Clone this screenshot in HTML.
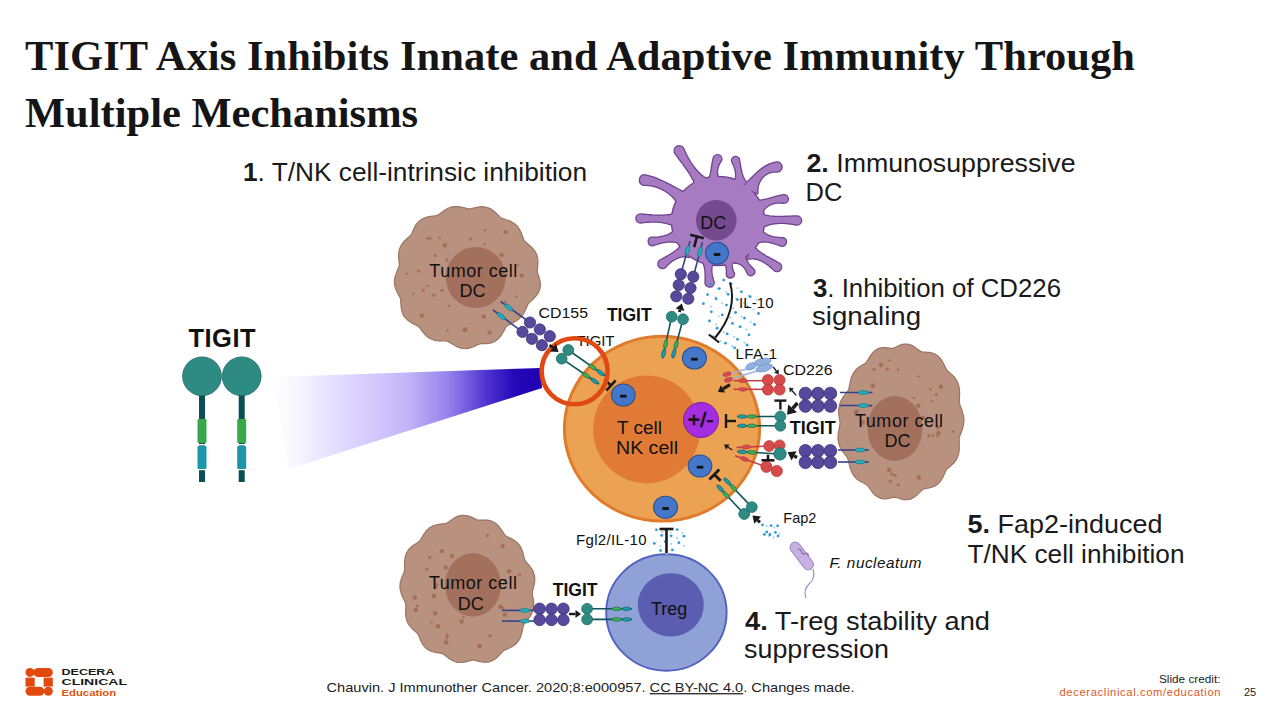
<!DOCTYPE html><html><head><meta charset="utf-8"><style>
html,body{margin:0;padding:0;background:#fff;}
body{width:1280px;height:720px;position:relative;overflow:hidden;}
svg{position:absolute;left:0;top:0;}
</style></head><body>
<svg width="1280" height="720" viewBox="0 0 1280 720"><defs><linearGradient id="wg" x1="272" y1="0" x2="542" y2="0" gradientUnits="userSpaceOnUse"><stop offset="0" stop-color="#ffffff"/><stop offset="0.1" stop-color="#f6f4ff"/><stop offset="0.3" stop-color="#dcd4ff"/><stop offset="0.5" stop-color="#c2b6f8"/><stop offset="0.66" stop-color="#937fea"/><stop offset="0.8" stop-color="#4c30d0"/><stop offset="0.9" stop-color="#2408b8"/><stop offset="1" stop-color="#2000b2"/></linearGradient></defs><polygon points="272,377 541,368 542,388 289,469" fill="url(#wg)"/><rect x="199" y="394" width="6" height="88" fill="#0c4e52"/><rect x="197.5" y="419" width="9" height="24" rx="1.2" fill="#3aa84a"/><rect x="197.5" y="444" width="9" height="1.4" fill="#ffffff"/><rect x="197.5" y="446" width="9" height="23" rx="1.2" fill="#1b98a8"/><rect x="197.5" y="469" width="9" height="1.2" fill="#ffffff"/><rect x="238.7" y="394" width="6" height="88" fill="#0c4e52"/><rect x="237.2" y="419" width="9" height="24" rx="1.2" fill="#3aa84a"/><rect x="237.2" y="444" width="9" height="1.4" fill="#ffffff"/><rect x="237.2" y="446" width="9" height="23" rx="1.2" fill="#1b98a8"/><rect x="237.2" y="469" width="9" height="1.2" fill="#ffffff"/><circle cx="202" cy="376.3" r="19.4" fill="#2e8b84" stroke="#1e6a66" stroke-width="0.8"/><circle cx="241.7" cy="376.3" r="19.4" fill="#2e8b84" stroke="#1e6a66" stroke-width="0.8"/><path d="M538.9 277 L539.4 278.8 L539.9 280.5 L540.2 282.4 L540.3 284.2 L540.3 286 L540.1 287.7 L539.7 289.5 L539 291.2 L538.2 292.9 L537.2 294.4 L536.1 295.9 L534.8 297.4 L533.5 298.8 L532.1 300.1 L530.7 301.3 L529.3 302.6 L528.2 303.9 L527.4 305.3 L526.8 306.8 L526.2 308.3 L525.5 309.8 L524.8 311.3 L524 312.7 L523.2 314.1 L522.2 315.5 L521.2 316.7 L520 317.9 L518.8 319 L517.4 320 L516.1 320.9 L514.6 321.8 L513.2 322.6 L511.7 323.3 L510.3 324.1 L508.9 324.8 L507.5 325.6 L506.3 326.6 L505.4 328 L504.6 329.4 L503.8 331 L502.9 332.6 L502 334.1 L501 335.6 L499.9 337 L498.7 338.4 L497.4 339.6 L496.1 340.6 L494.6 341.5 L493.1 342.2 L491.4 342.8 L489.8 343.2 L488.1 343.4 L486.4 343.6 L484.7 343.7 L482.9 343.7 L481.2 343.7 L479.6 343.9 L478 344.6 L476.5 345.3 L474.9 346.1 L473.3 346.8 L471.6 347.4 L469.9 347.9 L468.2 348.3 L466.5 348.5 L464.8 348.6 L463 348.5 L461.3 348.2 L459.6 347.7 L458 347.1 L456.4 346.4 L454.8 345.5 L453.3 344.6 L451.8 343.7 L450.3 342.7 L448.8 341.9 L447.3 341.2 L445.7 341 L444 341 L442.2 340.9 L440.5 340.9 L438.7 340.8 L436.9 340.6 L435.2 340.3 L433.5 339.9 L431.9 339.3 L430.3 338.6 L428.8 337.7 L427.4 336.7 L426.1 335.6 L424.8 334.4 L423.7 333 L422.6 331.7 L421.5 330.3 L420.5 328.9 L419.5 327.5 L418.3 326.4 L416.8 325.5 L415.2 324.7 L413.6 323.9 L411.9 323 L410.4 322.1 L408.8 321.1 L407.4 319.9 L406.1 318.7 L404.9 317.3 L403.9 315.9 L403 314.3 L402.4 312.7 L401.8 310.9 L401.4 309.2 L401.2 307.4 L401 305.5 L400.9 303.7 L400.8 301.9 L400.8 300.1 L400.5 298.5 L399.7 296.9 L398.9 295.4 L398.1 293.9 L397.2 292.3 L396.4 290.7 L395.8 289.1 L395.2 287.4 L394.8 285.7 L394.5 284 L394.4 282.2 L394.5 280.5 L394.7 278.7 L395.1 277 L395.6 275.3 L396.2 273.6 L396.8 271.9 L397.5 270.3 L398.2 268.7 L398.9 267.1 L399.3 265.5 L399.2 263.8 L399.1 262.1 L398.9 260.3 L398.7 258.5 L398.6 256.7 L398.6 254.9 L398.7 253.1 L399 251.4 L399.3 249.7 L399.9 248 L400.6 246.4 L401.5 244.8 L402.5 243.4 L403.6 242 L404.8 240.7 L406.1 239.5 L407.4 238.3 L408.7 237.1 L410 236 L411.2 234.7 L411.9 233.2 L412.6 231.5 L413.3 229.9 L414.1 228.3 L414.9 226.7 L415.8 225.1 L416.9 223.6 L418 222.3 L419.3 221.1 L420.7 220 L422.2 219 L423.8 218.2 L425.5 217.6 L427.2 217.1 L429 216.7 L430.8 216.3 L432.6 216.1 L434.4 215.9 L436.1 215.6 L437.8 215.1 L439.2 214.2 L440.5 213.2 L441.9 212.2 L443.3 211.2 L444.8 210.2 L446.3 209.2 L447.8 208.4 L449.4 207.7 L451.1 207.2 L452.8 206.8 L454.5 206.6 L456.2 206.5 L457.9 206.6 L459.7 206.8 L461.4 207.1 L463.1 207.5 L464.8 207.9 L466.5 208.4 L468.1 208.8 L469.8 208.9 L471.5 208.6 L473.2 208.2 L474.9 207.8 L476.7 207.4 L478.4 207.1 L480.2 206.8 L482 206.7 L483.8 206.8 L485.5 207.1 L487.2 207.5 L488.9 208.1 L490.5 208.8 L492 209.7 L493.5 210.8 L494.8 212 L496.2 213.2 L497.4 214.5 L498.7 215.7 L499.9 216.9 L501.2 218 L502.8 218.6 L504.4 219.1 L506.1 219.7 L507.7 220.2 L509.4 220.9 L511 221.6 L512.6 222.4 L514 223.3 L515.4 224.4 L516.7 225.6 L517.8 226.9 L518.8 228.3 L519.8 229.8 L520.6 231.4 L521.3 233 L521.9 234.7 L522.5 236.3 L523.1 237.9 L523.7 239.5 L524.5 241 L525.8 242.2 L527.1 243.3 L528.5 244.5 L529.9 245.7 L531.2 246.9 L532.5 248.2 L533.7 249.6 L534.8 251.1 L535.7 252.6 L536.5 254.3 L537.1 255.9 L537.5 257.7 L537.8 259.4 L537.9 261.2 L537.9 263 L537.8 264.8 L537.6 266.6 L537.4 268.4 L537.3 270.1 L537.3 271.9 L537.8 273.6 L538.4 275.3Z" fill="#b8917f" stroke="#9c7463" stroke-width="1.2"/><ellipse cx="475.8" cy="277.5" rx="30" ry="30.5" fill="#a3705d"/><g fill="#a46d5c"><circle cx="423.4" cy="290.3" r="1.6"/><circle cx="413.2" cy="293.6" r="1.2"/><circle cx="483.7" cy="316.6" r="2.2"/><circle cx="446.9" cy="259.9" r="1.6"/><circle cx="484.9" cy="230.2" r="1.2"/><circle cx="435.1" cy="255.6" r="1.6"/><circle cx="439.6" cy="238" r="1.2"/><circle cx="427.1" cy="238.5" r="1.2"/><circle cx="427.5" cy="286" r="1.2"/><circle cx="418.6" cy="271.2" r="1.6"/><circle cx="444.8" cy="245.2" r="2.2"/><circle cx="521.8" cy="275.5" r="2.2"/><circle cx="465.2" cy="329.5" r="2.2"/><circle cx="470.4" cy="239" r="1.6"/><circle cx="421.8" cy="315.6" r="2.2"/><circle cx="501.5" cy="254.9" r="2.2"/><circle cx="429.9" cy="238.3" r="1.6"/><circle cx="449" cy="305.8" r="1.2"/><circle cx="517.7" cy="265.2" r="1.2"/><circle cx="500.2" cy="315" r="1.2"/><circle cx="516.6" cy="296.8" r="1.2"/><circle cx="406.7" cy="273.7" r="1.2"/><circle cx="433.8" cy="295.2" r="1.6"/><circle cx="442" cy="290.3" r="1.6"/><circle cx="505.7" cy="232.1" r="2.2"/><circle cx="447.6" cy="330.5" r="1.2"/><circle cx="489.6" cy="332.6" r="2.2"/><circle cx="463.7" cy="330" r="1.6"/><circle cx="484.6" cy="244.2" r="1.2"/><circle cx="505.4" cy="301.7" r="1.2"/></g><path d="M963.8 422 L963.6 423.9 L963.3 425.7 L962.9 427.5 L962.3 429.3 L961.7 431 L961.1 432.8 L960.4 434.4 L959.8 436.1 L959.2 437.8 L959.1 439.6 L959.2 441.4 L959.2 443.3 L959.3 445.2 L959.3 447.2 L959.3 449.1 L959.1 451 L958.8 452.9 L958.4 454.7 L957.8 456.4 L957.1 458.1 L956.3 459.7 L955.3 461.1 L954.2 462.5 L953 463.8 L951.7 464.9 L950.5 466 L949.2 467.1 L947.9 468.2 L946.7 469.3 L945.8 470.7 L945.1 472.3 L944.4 473.9 L943.6 475.6 L942.9 477.2 L942 478.7 L941.1 480.2 L940.1 481.6 L939 482.9 L937.8 484 L936.5 485 L935.1 485.9 L933.7 486.5 L932.2 487.1 L930.7 487.5 L929.2 487.9 L927.7 488.2 L926.2 488.4 L924.7 488.7 L923.3 489.1 L922.1 490 L920.9 491.2 L919.7 492.4 L918.4 493.6 L917.2 494.8 L915.9 495.9 L914.5 496.9 L913.1 497.8 L911.7 498.6 L910.2 499.1 L908.7 499.5 L907.1 499.7 L905.6 499.7 L904.1 499.6 L902.5 499.3 L901 498.9 L899.5 498.5 L898 498 L896.5 497.5 L895.1 497.2 L893.5 497.3 L892 497.6 L890.4 498 L888.8 498.4 L887.2 498.6 L885.6 498.8 L883.9 498.8 L882.3 498.6 L880.8 498.3 L879.3 497.8 L877.8 497 L876.4 496.1 L875 495 L873.8 493.8 L872.6 492.5 L871.5 491 L870.4 489.5 L869.3 488 L868.3 486.5 L867.2 485.2 L866 484.2 L864.6 483.5 L863.1 482.8 L861.7 482 L860.2 481.2 L858.8 480.3 L857.5 479.4 L856.2 478.3 L855 477 L853.9 475.7 L852.9 474.2 L852 472.6 L851.3 471 L850.6 469.2 L850 467.4 L849.5 465.5 L849.1 463.7 L848.7 461.8 L848.2 460 L847.7 458.3 L846.9 456.8 L845.8 455.4 L844.7 454.1 L843.6 452.6 L842.5 451.2 L841.5 449.6 L840.6 448 L839.8 446.4 L839.1 444.6 L838.6 442.8 L838.3 441 L838 439.1 L838 437.1 L838.1 435.2 L838.3 433.2 L838.6 431.3 L839 429.4 L839.4 427.5 L839.8 425.6 L840.1 423.8 L840 422 L839.7 420.2 L839.4 418.3 L839.1 416.5 L838.9 414.6 L838.7 412.7 L838.7 410.8 L838.7 409 L839 407.1 L839.3 405.3 L839.9 403.5 L840.5 401.8 L841.3 400.2 L842.2 398.6 L843.2 397.1 L844.2 395.6 L845.3 394.2 L846.4 392.9 L847.5 391.5 L848.4 390.1 L848.9 388.5 L849.3 386.8 L849.7 385 L850 383.2 L850.4 381.3 L850.8 379.5 L851.3 377.8 L852 376.1 L852.7 374.4 L853.5 372.9 L854.5 371.5 L855.6 370.2 L856.7 369 L857.9 367.9 L859.2 367 L860.6 366.1 L861.9 365.3 L863.3 364.5 L864.6 363.7 L865.9 362.8 L866.9 361.5 L867.8 360 L868.8 358.4 L869.7 356.8 L870.7 355.3 L871.8 353.9 L873 352.5 L874.2 351.3 L875.5 350.2 L876.9 349.3 L878.3 348.6 L879.8 348.1 L881.3 347.8 L882.9 347.6 L884.5 347.6 L886.1 347.7 L887.6 347.9 L889.2 348.1 L890.7 348.3 L892.2 348.4 L893.7 348 L895.1 347.3 L896.5 346.7 L898 346 L899.5 345.4 L901 344.8 L902.5 344.4 L904.1 344.1 L905.6 344 L907.2 344.1 L908.7 344.4 L910.2 344.8 L911.7 345.4 L913.1 346.1 L914.5 347 L915.9 347.9 L917.2 348.9 L918.6 349.9 L919.9 350.8 L921.2 351.7 L922.7 352 L924.2 352.1 L925.8 352.2 L927.4 352.3 L929.1 352.4 L930.7 352.7 L932.3 353.1 L933.8 353.6 L935.3 354.3 L936.7 355.1 L938.1 356.2 L939.3 357.3 L940.5 358.7 L941.5 360.1 L942.5 361.7 L943.4 363.3 L944.3 365 L945.1 366.7 L945.9 368.3 L946.7 369.9 L947.8 371.2 L949.1 372.3 L950.4 373.4 L951.7 374.5 L952.9 375.7 L954.2 377 L955.3 378.4 L956.3 379.9 L957.2 381.5 L957.9 383.2 L958.5 385 L959 386.9 L959.3 388.8 L959.5 390.8 L959.6 392.8 L959.6 394.8 L959.5 396.8 L959.4 398.8 L959.3 400.7 L959.3 402.6 L959.7 404.3 L960.3 405.9 L960.9 407.6 L961.6 409.3 L962.2 411.1 L962.7 412.8 L963.2 414.6 L963.6 416.4 L963.8 418.3 L963.9 420.1Z" fill="#b8917f" stroke="#9c7463" stroke-width="1.2"/><ellipse cx="895" cy="428.5" rx="27.5" ry="32.5" fill="#a3705d"/><g fill="#a46d5c"><circle cx="953.1" cy="431.5" r="1.2"/><circle cx="887.5" cy="369" r="1.6"/><circle cx="923.1" cy="417.9" r="2.2"/><circle cx="881" cy="365" r="2.2"/><circle cx="930.8" cy="389.2" r="1.2"/><circle cx="918.8" cy="477.4" r="2.2"/><circle cx="856.8" cy="411.4" r="2.2"/><circle cx="928.9" cy="435.8" r="1.6"/><circle cx="898.3" cy="485.1" r="1.6"/><circle cx="940.9" cy="386.8" r="2.2"/><circle cx="895.3" cy="475.3" r="1.6"/><circle cx="937.6" cy="436.3" r="1.2"/><circle cx="890.4" cy="481.3" r="1.6"/><circle cx="874.2" cy="369.6" r="1.6"/><circle cx="870.4" cy="406.2" r="1.2"/><circle cx="889.1" cy="469.7" r="2.2"/><circle cx="855.8" cy="412.5" r="2.2"/><circle cx="913.7" cy="397.9" r="1.2"/><circle cx="918.3" cy="405.7" r="2.2"/><circle cx="936.3" cy="394.5" r="1.6"/><circle cx="938.5" cy="432.9" r="2.2"/><circle cx="898.1" cy="369.8" r="1.2"/><circle cx="933" cy="435.3" r="1.2"/><circle cx="932.5" cy="401.1" r="1.2"/><circle cx="862.9" cy="422.4" r="2.2"/><circle cx="891.7" cy="474.2" r="1.6"/><circle cx="889.5" cy="360.5" r="1.2"/><circle cx="918.5" cy="376.4" r="1.2"/><circle cx="938" cy="427.2" r="2.2"/><circle cx="872.9" cy="385.8" r="2.2"/></g><path d="M532.8 590 L532.3 591.7 L532.2 593.4 L532.5 595.1 L532.8 596.8 L533.1 598.6 L533.4 600.3 L533.6 602.1 L533.7 603.9 L533.7 605.7 L533.5 607.5 L533.2 609.2 L532.8 610.9 L532.1 612.6 L531.4 614.2 L530.5 615.7 L529.6 617.2 L528.5 618.6 L527.4 619.9 L526.3 621.3 L525.2 622.6 L524.2 623.9 L523.5 625.4 L523 627.1 L522.7 628.9 L522.3 630.7 L521.9 632.5 L521.4 634.3 L520.8 636.1 L520.2 637.8 L519.3 639.4 L518.4 640.9 L517.3 642.3 L516.2 643.6 L514.9 644.8 L513.5 645.8 L512 646.7 L510.5 647.5 L508.9 648.2 L507.3 648.9 L505.7 649.6 L504.2 650.3 L502.9 651.2 L501.7 652.5 L500.5 653.8 L499.3 655.1 L498.1 656.4 L496.7 657.7 L495.4 658.8 L493.9 659.8 L492.4 660.6 L490.8 661.3 L489.2 661.8 L487.5 662.1 L485.8 662.2 L484.1 662.2 L482.3 662 L480.6 661.7 L478.8 661.4 L477.1 660.9 L475.5 660.5 L473.8 660.1 L472.2 660.1 L470.7 660.4 L469.1 660.9 L467.5 661.3 L465.9 661.7 L464.3 662.1 L462.6 662.3 L461 662.5 L459.3 662.5 L457.7 662.3 L456.1 662 L454.5 661.5 L452.9 660.8 L451.4 660 L450 659.1 L448.6 658.2 L447.2 657.1 L445.9 656 L444.6 655 L443.3 654 L441.8 653.4 L440.2 653.1 L438.6 652.9 L436.9 652.6 L435.3 652.3 L433.6 652 L432 651.5 L430.4 650.9 L428.9 650.2 L427.4 649.3 L426.1 648.2 L424.9 647.1 L423.8 645.7 L422.8 644.3 L421.9 642.8 L421 641.2 L420.3 639.5 L419.6 637.9 L419 636.2 L418.3 634.7 L417.4 633.3 L416.2 632.2 L414.9 631.1 L413.6 630 L412.4 628.8 L411.2 627.6 L410.1 626.3 L409 624.9 L408.1 623.5 L407.4 622 L406.7 620.4 L406.2 618.7 L405.9 617 L405.7 615.2 L405.6 613.4 L405.6 611.6 L405.7 609.8 L405.8 608.1 L405.8 606.3 L405.8 604.6 L405.5 603 L404.9 601.5 L404.1 600 L403.3 598.4 L402.6 596.8 L401.8 595.1 L401.2 593.4 L400.7 591.7 L400.3 590 L400 588.2 L400 586.5 L400 584.7 L400.2 583 L400.6 581.3 L401.1 579.6 L401.7 577.9 L402.3 576.3 L403 574.7 L403.7 573.1 L404.3 571.5 L404.6 569.8 L404.6 568 L404.6 566.2 L404.5 564.3 L404.6 562.4 L404.7 560.6 L404.9 558.7 L405.2 556.9 L405.7 555.1 L406.4 553.5 L407.2 551.9 L408.2 550.4 L409.3 549 L410.5 547.7 L411.8 546.5 L413.2 545.4 L414.7 544.4 L416.2 543.4 L417.6 542.5 L419 541.5 L420.2 540.3 L421.1 538.9 L422 537.4 L422.9 535.9 L423.8 534.3 L424.8 532.9 L425.9 531.4 L427 530.1 L428.3 528.9 L429.6 527.8 L431 526.9 L432.6 526.1 L434.1 525.5 L435.8 525 L437.4 524.6 L439.1 524.3 L440.8 524.1 L442.5 523.9 L444.1 523.7 L445.7 523.5 L447.2 522.9 L448.6 522 L450 521 L451.4 519.9 L452.9 518.9 L454.4 518 L455.9 517.1 L457.5 516.4 L459.1 515.9 L460.8 515.5 L462.5 515.3 L464.1 515.3 L465.8 515.5 L467.5 515.8 L469.2 516.3 L470.8 516.9 L472.4 517.6 L474 518.3 L475.5 519.1 L477 519.8 L478.6 520.1 L480.2 520.1 L481.9 520.1 L483.5 520 L485.2 520.1 L486.9 520.1 L488.5 520.4 L490.2 520.7 L491.8 521.2 L493.3 521.9 L494.8 522.7 L496.1 523.7 L497.5 524.9 L498.7 526.1 L499.8 527.5 L500.9 529 L501.9 530.5 L502.9 532 L503.8 533.4 L504.8 534.8 L505.9 535.9 L507.3 536.7 L508.8 537.4 L510.2 538.1 L511.7 538.9 L513.2 539.7 L514.6 540.6 L515.9 541.6 L517.2 542.7 L518.3 543.9 L519.4 545.2 L520.3 546.6 L521.1 548.1 L521.8 549.7 L522.4 551.3 L522.9 553 L523.4 554.7 L523.8 556.3 L524.2 558 L524.7 559.6 L525.4 561.1 L526.5 562.4 L527.6 563.7 L528.8 565 L529.9 566.4 L531 567.8 L532 569.3 L532.8 570.9 L533.5 572.5 L534.1 574.2 L534.5 575.9 L534.7 577.7 L534.8 579.4 L534.7 581.2 L534.5 583 L534.1 584.8 L533.7 586.6 L533.2 588.3Z" fill="#b8917f" stroke="#9c7463" stroke-width="1.2"/><ellipse cx="473" cy="585" rx="28" ry="31.7" fill="#a3705d"/><g fill="#a46d5c"><circle cx="426.9" cy="569.3" r="1.6"/><circle cx="414.9" cy="597.5" r="2.2"/><circle cx="441.8" cy="551.1" r="2.2"/><circle cx="447.3" cy="635.4" r="1.6"/><circle cx="415.8" cy="609.9" r="2.2"/><circle cx="500.3" cy="606.8" r="2.2"/><circle cx="429.7" cy="557.4" r="1.6"/><circle cx="446.6" cy="638.2" r="1.2"/><circle cx="479.7" cy="646" r="2.2"/><circle cx="437.1" cy="626.7" r="1.2"/><circle cx="435.6" cy="587.2" r="1.6"/><circle cx="436.7" cy="584.8" r="1.6"/><circle cx="431.6" cy="622.4" r="1.2"/><circle cx="438" cy="626.2" r="2.2"/><circle cx="463.5" cy="617" r="1.2"/><circle cx="451.9" cy="556.1" r="2.2"/><circle cx="434.1" cy="596" r="2.2"/><circle cx="417.2" cy="606" r="1.6"/><circle cx="503" cy="608" r="1.6"/><circle cx="509" cy="571.3" r="2.2"/><circle cx="446.2" cy="642.5" r="2.2"/><circle cx="502.7" cy="546.1" r="2.2"/><circle cx="504.9" cy="614.6" r="2.2"/><circle cx="461.6" cy="621.5" r="2.2"/><circle cx="435.2" cy="613.2" r="2.2"/><circle cx="505.6" cy="580" r="1.2"/><circle cx="519.7" cy="574.9" r="1.6"/><circle cx="445.7" cy="567.4" r="2.2"/><circle cx="490" cy="635.7" r="1.6"/><circle cx="487.4" cy="535.6" r="1.6"/></g><ellipse cx="662" cy="428.7" rx="97.6" ry="92.4" fill="#eba253" stroke="#e07a2c" stroke-width="3"/><ellipse cx="646.6" cy="429.4" rx="53.5" ry="54" fill="#e07a35"/><ellipse cx="666.4" cy="612.5" rx="60.2" ry="58.2" fill="#8fa1d6" stroke="#5262c0" stroke-width="1.9"/><ellipse cx="670.8" cy="604.9" rx="33" ry="31.7" fill="#5a5db0"/><g fill="#a77bc2" stroke="#6f4590" stroke-width="2.6" stroke-linejoin="round"><path d="M675.1 152.7 L676.6 154.8 L678.2 156.9 L679.7 159.1 L681.3 161.2 L682.9 163.3 L684.5 165.5 L686.1 167.7 L687.6 170 L689.2 172.3 L690.7 174.6 L692.1 177.1 L693.5 179.6 L694.8 182.2 L696 185 L697 187.9 L697.9 191.1 L710.1 180.9 L707.3 179.6 L704.7 178 L702.3 176.3 L700.1 174.5 L698.1 172.5 L696.2 170.5 L694.5 168.4 L692.9 166.3 L691.3 164.1 L689.9 161.9 L688.6 159.6 L687.3 157.4 L686.1 155.1 L685 152.8 L683.9 150.5 L682.9 148.3 A4.5 4.5 0 0 0 675.1 152.7 Z"/><path d="M714.1 157.3 L713.7 158.7 L713.4 160.2 L713 161.6 L712.8 163.1 L712.5 164.6 L712.2 166.2 L712 167.8 L711.7 169.4 L711.4 171 L711.1 172.8 L710.7 174.5 L710.3 176.3 L709.7 178.2 L708.9 180.2 L708 182.3 L706.8 184.5 L721.2 183.5 L719.8 181.8 L718.7 180 L718 178.3 L717.4 176.5 L717.1 174.8 L716.9 173.2 L716.9 171.6 L717 170.1 L717.2 168.7 L717.6 167.3 L718 166 L718.4 164.8 L719 163.6 L719.6 162.6 L720.2 161.6 L720.9 160.7 A3.8 3.8 0 0 0 714.1 157.3 Z"/><path d="M732.3 161.7 L732.9 162.7 L733.5 163.9 L734 165 L734.5 166.2 L734.9 167.5 L735.3 168.8 L735.7 170.2 L735.9 171.6 L736.1 173 L736.2 174.6 L736.2 176.1 L736 177.7 L735.6 179.3 L735.1 181 L734.2 182.7 L733 184.5 L747 183.5 L745.5 181.8 L744.4 180.1 L743.4 178.5 L742.7 176.9 L742.1 175.3 L741.6 173.7 L741.2 172.2 L740.9 170.7 L740.6 169.2 L740.3 167.7 L740 166.3 L739.8 164.8 L739.6 163.4 L739.4 162 L739.1 160.7 L738.9 159.3 A3.5 3.5 0 0 0 732.3 161.7 Z"/><path d="M776.7 162.5 L774.3 163 L772 163.7 L769.7 164.5 L767.6 165.5 L765.5 166.7 L763.5 167.9 L761.6 169.3 L759.7 170.8 L757.8 172.4 L755.9 174.1 L754 176 L752 177.9 L750 180 L747.8 182.1 L745.4 184.4 L742.7 186.7 L757.3 193.3 L757.2 190.3 L757.5 187.5 L758 185 L758.8 182.7 L759.9 180.6 L761.1 178.8 L762.4 177.1 L763.8 175.7 L765.4 174.5 L766.9 173.5 L768.6 172.7 L770.3 172.1 L772 171.7 L773.7 171.5 L775.5 171.4 L777.3 171.5 A4.5 4.5 0 0 0 776.7 162.5 Z"/><path d="M784 195.2 L782.3 195.5 L780.7 195.8 L779.1 196.2 L777.4 196.6 L775.8 197 L774.1 197.5 L772.4 198 L770.7 198.4 L769 198.9 L767.2 199.4 L765.3 199.8 L763.4 200.2 L761.4 200.6 L759.3 200.8 L756.9 200.8 L754.4 200.7 L761.6 213.3 L762.6 211.2 L763.7 209.5 L765 208 L766.3 206.8 L767.8 205.7 L769.2 204.9 L770.8 204.1 L772.3 203.6 L773.8 203.1 L775.3 202.8 L776.9 202.5 L778.3 202.4 L779.8 202.4 L781.2 202.4 L782.6 202.6 L784 202.8 A3.8 3.8 0 0 0 784 195.2 Z"/><path d="M797.4 216.5 L795.1 216.6 L792.9 216.6 L790.7 216.7 L788.4 216.8 L786.2 216.9 L783.9 217 L781.5 217 L779.2 217 L776.9 217 L774.5 216.9 L772 216.7 L769.6 216.5 L767.1 216 L764.5 215.5 L761.9 214.6 L759.3 213.5 L760.7 228.5 L763 226.9 L765.4 225.7 L767.7 224.7 L770 224 L772.4 223.5 L774.7 223.1 L777 222.9 L779.3 222.7 L781.6 222.7 L783.8 222.8 L786 222.9 L788.2 223.1 L790.4 223.4 L792.5 223.7 L794.6 224.1 L796.6 224.5 A4 4 0 0 0 797.4 216.5 Z"/><path d="M783.2 238.3 L781.9 238.3 L780.5 238.2 L779.1 238.1 L777.7 238 L776.2 237.8 L774.7 237.6 L773.3 237.3 L771.8 236.9 L770.3 236.4 L768.7 235.9 L767.2 235.2 L765.7 234.4 L764.2 233.4 L762.7 232.3 L761.3 230.8 L760 229 L756 243 L758.1 242.2 L760.1 241.7 L762 241.4 L763.9 241.3 L765.6 241.4 L767.3 241.5 L768.9 241.8 L770.5 242.1 L772 242.5 L773.5 242.9 L775 243.3 L776.4 243.8 L777.8 244.2 L779.2 244.7 L780.5 245.2 L781.8 245.7 A3.8 3.8 0 0 0 783.2 238.3 Z"/><path d="M779.4 263.8 L777.7 262.8 L776 261.9 L774.3 261 L772.5 260 L770.8 259.1 L769.1 258.2 L767.3 257.2 L765.6 256.3 L763.9 255.2 L762.2 254.2 L760.6 253 L758.9 251.8 L757.3 250.4 L755.7 248.9 L754.2 247.1 L752.8 245 L747.2 259 L749.5 258.4 L751.7 258.2 L753.7 258.3 L755.7 258.6 L757.6 259.1 L759.4 259.7 L761.2 260.4 L762.9 261.2 L764.5 262.2 L766.1 263.2 L767.6 264.2 L769.1 265.3 L770.5 266.5 L771.9 267.7 L773.3 268.9 L774.6 270.2 A4 4 0 0 0 779.4 263.8 Z"/><path d="M733.8 273.2 L733.4 272.5 L733.1 271.8 L732.8 271 L732.4 270.2 L732.2 269.4 L731.9 268.5 L731.7 267.6 L731.6 266.6 L731.5 265.6 L731.5 264.6 L731.6 263.5 L731.9 262.3 L732.3 261.2 L732.9 259.9 L733.8 258.6 L735 257.3 L721 258.7 L722.5 259.8 L723.6 261 L724.5 262.1 L725.2 263.2 L725.7 264.2 L726.1 265.3 L726.4 266.3 L726.6 267.4 L726.8 268.4 L726.9 269.4 L727 270.3 L727 271.3 L727 272.2 L727 273.1 L727 273.9 L727 274.8 A3.5 3.5 0 0 0 733.8 273.2 Z"/><path d="M753.9 270.1 L753.2 269.4 L752.5 268.7 L751.8 268 L751 267.2 L750.3 266.5 L749.6 265.7 L748.9 264.8 L748.2 264 L747.6 263 L747 262 L746.4 260.9 L745.9 259.7 L745.5 258.4 L745.3 256.9 L745.2 255.3 L745.3 253.4 L734.7 262.6 L736.6 262.7 L738.2 263 L739.5 263.5 L740.7 264 L741.8 264.7 L742.7 265.4 L743.5 266.2 L744.3 267 L745 267.9 L745.6 268.8 L746.1 269.6 L746.6 270.5 L747 271.4 L747.4 272.2 L747.8 273.1 L748.1 273.9 A3.5 3.5 0 0 0 753.9 270.1 Z"/><path d="M665.1 267.1 L666.1 265.9 L667.1 264.8 L668.2 263.8 L669.3 262.7 L670.6 261.7 L671.8 260.7 L673.2 259.8 L674.6 259 L676.1 258.2 L677.6 257.5 L679.3 256.9 L681 256.5 L682.8 256.2 L684.7 256.2 L686.8 256.4 L689 256.9 L683 243.1 L681.8 245.1 L680.4 246.9 L679 248.4 L677.6 249.8 L676.1 251 L674.6 252.1 L673.2 253.1 L671.7 254 L670.2 255 L668.7 255.8 L667.2 256.7 L665.7 257.5 L664.2 258.4 L662.8 259.2 L661.3 260.1 L659.9 260.9 A4 4 0 0 0 665.1 267.1 Z"/><path d="M713.6 281.9 L713.1 280.7 L712.7 279.4 L712.4 278.1 L712 276.7 L711.7 275.3 L711.5 273.9 L711.3 272.4 L711.2 270.9 L711.2 269.4 L711.3 267.9 L711.5 266.3 L711.9 264.7 L712.4 263 L713.1 261.4 L714.1 259.7 L715.5 258 L700.5 258 L701.9 259.8 L702.9 261.5 L703.7 263.2 L704.3 264.9 L704.8 266.5 L705.1 268.2 L705.4 269.7 L705.6 271.3 L705.7 272.9 L705.7 274.4 L705.8 275.9 L705.8 277.4 L705.7 278.8 L705.7 280.3 L705.7 281.7 L705.6 283.1 A4 4 0 0 0 713.6 281.9 Z"/><path d="M652.6 245.2 L653.8 244.8 L655.1 244.4 L656.5 243.9 L657.9 243.5 L659.4 243.1 L660.9 242.7 L662.4 242.3 L664.1 242 L665.7 241.7 L667.5 241.5 L669.3 241.4 L671.2 241.3 L673.2 241.4 L675.2 241.7 L677.4 242.2 L679.8 243 L676.2 229 L674.6 230.8 L672.9 232.2 L671.3 233.4 L669.6 234.4 L667.9 235.2 L666.2 235.8 L664.6 236.3 L662.9 236.8 L661.4 237.1 L659.8 237.4 L658.3 237.6 L656.8 237.7 L655.4 237.8 L654 237.8 L652.7 237.8 L651.4 237.8 A3.8 3.8 0 0 0 652.6 245.2 Z"/><path d="M640.6 222.5 L642.4 222.2 L644.3 222 L646.2 221.7 L648.3 221.6 L650.3 221.4 L652.5 221.4 L654.7 221.4 L657 221.5 L659.4 221.7 L661.8 221.9 L664.3 222.4 L666.8 222.9 L669.4 223.7 L672 224.6 L674.7 225.9 L677.4 227.5 L678.6 212.5 L675.7 213.6 L672.8 214.4 L670 215 L667.3 215.4 L664.7 215.6 L662.1 215.8 L659.6 215.8 L657.2 215.8 L654.9 215.7 L652.6 215.6 L650.4 215.4 L648.3 215.3 L646.2 215.1 L644.2 214.9 L642.3 214.7 L640.4 214.5 A4 4 0 0 0 640.6 222.5 Z"/><path d="M643.5 184.7 L646 184.7 L648.4 184.9 L650.9 185.2 L653.4 185.7 L655.9 186.4 L658.4 187.2 L660.9 188.3 L663.4 189.5 L665.9 190.9 L668.3 192.6 L670.7 194.5 L672.9 196.6 L675 199 L677 201.7 L678.8 204.7 L680.3 208 L691.7 196 L688 194.5 L684.5 192.9 L681.2 191.2 L678.1 189.6 L675.1 188 L672.2 186.5 L669.4 184.9 L666.6 183.5 L663.8 182.1 L661.1 180.9 L658.3 179.7 L655.6 178.5 L652.9 177.5 L650.1 176.7 L647.3 175.9 L644.5 175.3 A4.8 4.8 0 0 0 643.5 184.7 Z"/><ellipse cx="718" cy="221" rx="46" ry="44"/></g><g fill="#a77bc2"><path d="M675.1 152.7 L676.6 154.8 L678.2 156.9 L679.7 159.1 L681.3 161.2 L682.9 163.3 L684.5 165.5 L686.1 167.7 L687.6 170 L689.2 172.3 L690.7 174.6 L692.1 177.1 L693.5 179.6 L694.8 182.2 L696 185 L697 187.9 L697.9 191.1 L710.1 180.9 L707.3 179.6 L704.7 178 L702.3 176.3 L700.1 174.5 L698.1 172.5 L696.2 170.5 L694.5 168.4 L692.9 166.3 L691.3 164.1 L689.9 161.9 L688.6 159.6 L687.3 157.4 L686.1 155.1 L685 152.8 L683.9 150.5 L682.9 148.3 A4.5 4.5 0 0 0 675.1 152.7 Z"/><path d="M714.1 157.3 L713.7 158.7 L713.4 160.2 L713 161.6 L712.8 163.1 L712.5 164.6 L712.2 166.2 L712 167.8 L711.7 169.4 L711.4 171 L711.1 172.8 L710.7 174.5 L710.3 176.3 L709.7 178.2 L708.9 180.2 L708 182.3 L706.8 184.5 L721.2 183.5 L719.8 181.8 L718.7 180 L718 178.3 L717.4 176.5 L717.1 174.8 L716.9 173.2 L716.9 171.6 L717 170.1 L717.2 168.7 L717.6 167.3 L718 166 L718.4 164.8 L719 163.6 L719.6 162.6 L720.2 161.6 L720.9 160.7 A3.8 3.8 0 0 0 714.1 157.3 Z"/><path d="M732.3 161.7 L732.9 162.7 L733.5 163.9 L734 165 L734.5 166.2 L734.9 167.5 L735.3 168.8 L735.7 170.2 L735.9 171.6 L736.1 173 L736.2 174.6 L736.2 176.1 L736 177.7 L735.6 179.3 L735.1 181 L734.2 182.7 L733 184.5 L747 183.5 L745.5 181.8 L744.4 180.1 L743.4 178.5 L742.7 176.9 L742.1 175.3 L741.6 173.7 L741.2 172.2 L740.9 170.7 L740.6 169.2 L740.3 167.7 L740 166.3 L739.8 164.8 L739.6 163.4 L739.4 162 L739.1 160.7 L738.9 159.3 A3.5 3.5 0 0 0 732.3 161.7 Z"/><path d="M776.7 162.5 L774.3 163 L772 163.7 L769.7 164.5 L767.6 165.5 L765.5 166.7 L763.5 167.9 L761.6 169.3 L759.7 170.8 L757.8 172.4 L755.9 174.1 L754 176 L752 177.9 L750 180 L747.8 182.1 L745.4 184.4 L742.7 186.7 L757.3 193.3 L757.2 190.3 L757.5 187.5 L758 185 L758.8 182.7 L759.9 180.6 L761.1 178.8 L762.4 177.1 L763.8 175.7 L765.4 174.5 L766.9 173.5 L768.6 172.7 L770.3 172.1 L772 171.7 L773.7 171.5 L775.5 171.4 L777.3 171.5 A4.5 4.5 0 0 0 776.7 162.5 Z"/><path d="M784 195.2 L782.3 195.5 L780.7 195.8 L779.1 196.2 L777.4 196.6 L775.8 197 L774.1 197.5 L772.4 198 L770.7 198.4 L769 198.9 L767.2 199.4 L765.3 199.8 L763.4 200.2 L761.4 200.6 L759.3 200.8 L756.9 200.8 L754.4 200.7 L761.6 213.3 L762.6 211.2 L763.7 209.5 L765 208 L766.3 206.8 L767.8 205.7 L769.2 204.9 L770.8 204.1 L772.3 203.6 L773.8 203.1 L775.3 202.8 L776.9 202.5 L778.3 202.4 L779.8 202.4 L781.2 202.4 L782.6 202.6 L784 202.8 A3.8 3.8 0 0 0 784 195.2 Z"/><path d="M797.4 216.5 L795.1 216.6 L792.9 216.6 L790.7 216.7 L788.4 216.8 L786.2 216.9 L783.9 217 L781.5 217 L779.2 217 L776.9 217 L774.5 216.9 L772 216.7 L769.6 216.5 L767.1 216 L764.5 215.5 L761.9 214.6 L759.3 213.5 L760.7 228.5 L763 226.9 L765.4 225.7 L767.7 224.7 L770 224 L772.4 223.5 L774.7 223.1 L777 222.9 L779.3 222.7 L781.6 222.7 L783.8 222.8 L786 222.9 L788.2 223.1 L790.4 223.4 L792.5 223.7 L794.6 224.1 L796.6 224.5 A4 4 0 0 0 797.4 216.5 Z"/><path d="M783.2 238.3 L781.9 238.3 L780.5 238.2 L779.1 238.1 L777.7 238 L776.2 237.8 L774.7 237.6 L773.3 237.3 L771.8 236.9 L770.3 236.4 L768.7 235.9 L767.2 235.2 L765.7 234.4 L764.2 233.4 L762.7 232.3 L761.3 230.8 L760 229 L756 243 L758.1 242.2 L760.1 241.7 L762 241.4 L763.9 241.3 L765.6 241.4 L767.3 241.5 L768.9 241.8 L770.5 242.1 L772 242.5 L773.5 242.9 L775 243.3 L776.4 243.8 L777.8 244.2 L779.2 244.7 L780.5 245.2 L781.8 245.7 A3.8 3.8 0 0 0 783.2 238.3 Z"/><path d="M779.4 263.8 L777.7 262.8 L776 261.9 L774.3 261 L772.5 260 L770.8 259.1 L769.1 258.2 L767.3 257.2 L765.6 256.3 L763.9 255.2 L762.2 254.2 L760.6 253 L758.9 251.8 L757.3 250.4 L755.7 248.9 L754.2 247.1 L752.8 245 L747.2 259 L749.5 258.4 L751.7 258.2 L753.7 258.3 L755.7 258.6 L757.6 259.1 L759.4 259.7 L761.2 260.4 L762.9 261.2 L764.5 262.2 L766.1 263.2 L767.6 264.2 L769.1 265.3 L770.5 266.5 L771.9 267.7 L773.3 268.9 L774.6 270.2 A4 4 0 0 0 779.4 263.8 Z"/><path d="M733.8 273.2 L733.4 272.5 L733.1 271.8 L732.8 271 L732.4 270.2 L732.2 269.4 L731.9 268.5 L731.7 267.6 L731.6 266.6 L731.5 265.6 L731.5 264.6 L731.6 263.5 L731.9 262.3 L732.3 261.2 L732.9 259.9 L733.8 258.6 L735 257.3 L721 258.7 L722.5 259.8 L723.6 261 L724.5 262.1 L725.2 263.2 L725.7 264.2 L726.1 265.3 L726.4 266.3 L726.6 267.4 L726.8 268.4 L726.9 269.4 L727 270.3 L727 271.3 L727 272.2 L727 273.1 L727 273.9 L727 274.8 A3.5 3.5 0 0 0 733.8 273.2 Z"/><path d="M753.9 270.1 L753.2 269.4 L752.5 268.7 L751.8 268 L751 267.2 L750.3 266.5 L749.6 265.7 L748.9 264.8 L748.2 264 L747.6 263 L747 262 L746.4 260.9 L745.9 259.7 L745.5 258.4 L745.3 256.9 L745.2 255.3 L745.3 253.4 L734.7 262.6 L736.6 262.7 L738.2 263 L739.5 263.5 L740.7 264 L741.8 264.7 L742.7 265.4 L743.5 266.2 L744.3 267 L745 267.9 L745.6 268.8 L746.1 269.6 L746.6 270.5 L747 271.4 L747.4 272.2 L747.8 273.1 L748.1 273.9 A3.5 3.5 0 0 0 753.9 270.1 Z"/><path d="M665.1 267.1 L666.1 265.9 L667.1 264.8 L668.2 263.8 L669.3 262.7 L670.6 261.7 L671.8 260.7 L673.2 259.8 L674.6 259 L676.1 258.2 L677.6 257.5 L679.3 256.9 L681 256.5 L682.8 256.2 L684.7 256.2 L686.8 256.4 L689 256.9 L683 243.1 L681.8 245.1 L680.4 246.9 L679 248.4 L677.6 249.8 L676.1 251 L674.6 252.1 L673.2 253.1 L671.7 254 L670.2 255 L668.7 255.8 L667.2 256.7 L665.7 257.5 L664.2 258.4 L662.8 259.2 L661.3 260.1 L659.9 260.9 A4 4 0 0 0 665.1 267.1 Z"/><path d="M713.6 281.9 L713.1 280.7 L712.7 279.4 L712.4 278.1 L712 276.7 L711.7 275.3 L711.5 273.9 L711.3 272.4 L711.2 270.9 L711.2 269.4 L711.3 267.9 L711.5 266.3 L711.9 264.7 L712.4 263 L713.1 261.4 L714.1 259.7 L715.5 258 L700.5 258 L701.9 259.8 L702.9 261.5 L703.7 263.2 L704.3 264.9 L704.8 266.5 L705.1 268.2 L705.4 269.7 L705.6 271.3 L705.7 272.9 L705.7 274.4 L705.8 275.9 L705.8 277.4 L705.7 278.8 L705.7 280.3 L705.7 281.7 L705.6 283.1 A4 4 0 0 0 713.6 281.9 Z"/><path d="M652.6 245.2 L653.8 244.8 L655.1 244.4 L656.5 243.9 L657.9 243.5 L659.4 243.1 L660.9 242.7 L662.4 242.3 L664.1 242 L665.7 241.7 L667.5 241.5 L669.3 241.4 L671.2 241.3 L673.2 241.4 L675.2 241.7 L677.4 242.2 L679.8 243 L676.2 229 L674.6 230.8 L672.9 232.2 L671.3 233.4 L669.6 234.4 L667.9 235.2 L666.2 235.8 L664.6 236.3 L662.9 236.8 L661.4 237.1 L659.8 237.4 L658.3 237.6 L656.8 237.7 L655.4 237.8 L654 237.8 L652.7 237.8 L651.4 237.8 A3.8 3.8 0 0 0 652.6 245.2 Z"/><path d="M640.6 222.5 L642.4 222.2 L644.3 222 L646.2 221.7 L648.3 221.6 L650.3 221.4 L652.5 221.4 L654.7 221.4 L657 221.5 L659.4 221.7 L661.8 221.9 L664.3 222.4 L666.8 222.9 L669.4 223.7 L672 224.6 L674.7 225.9 L677.4 227.5 L678.6 212.5 L675.7 213.6 L672.8 214.4 L670 215 L667.3 215.4 L664.7 215.6 L662.1 215.8 L659.6 215.8 L657.2 215.8 L654.9 215.7 L652.6 215.6 L650.4 215.4 L648.3 215.3 L646.2 215.1 L644.2 214.9 L642.3 214.7 L640.4 214.5 A4 4 0 0 0 640.6 222.5 Z"/><path d="M643.5 184.7 L646 184.7 L648.4 184.9 L650.9 185.2 L653.4 185.7 L655.9 186.4 L658.4 187.2 L660.9 188.3 L663.4 189.5 L665.9 190.9 L668.3 192.6 L670.7 194.5 L672.9 196.6 L675 199 L677 201.7 L678.8 204.7 L680.3 208 L691.7 196 L688 194.5 L684.5 192.9 L681.2 191.2 L678.1 189.6 L675.1 188 L672.2 186.5 L669.4 184.9 L666.6 183.5 L663.8 182.1 L661.1 180.9 L658.3 179.7 L655.6 178.5 L652.9 177.5 L650.1 176.7 L647.3 175.9 L644.5 175.3 A4.8 4.8 0 0 0 643.5 184.7 Z"/><ellipse cx="718" cy="221" rx="46" ry="44"/></g><circle cx="716.25" cy="220.2" r="20.3" fill="#764a8e"/><circle cx="710.2" cy="284.4" r="1.4" fill="#2a9ad6"/><circle cx="717.8" cy="288.8" r="1.1" fill="#a9d4ea"/><circle cx="723.7" cy="280.1" r="1.4" fill="#2a9ad6"/><circle cx="729.8" cy="283.6" r="1.1" fill="#a9d4ea"/><circle cx="707.6" cy="294.6" r="1.4" fill="#2a9ad6"/><circle cx="715.4" cy="297.4" r="1.1" fill="#a9d4ea"/><circle cx="719.3" cy="288.6" r="1.4" fill="#2a9ad6"/><circle cx="726.4" cy="292.3" r="1.1" fill="#a9d4ea"/><circle cx="731.1" cy="283.8" r="1.4" fill="#2a9ad6"/><circle cx="737.6" cy="288.1" r="1.1" fill="#a9d4ea"/><circle cx="703.4" cy="303.7" r="1.4" fill="#2a9ad6"/><circle cx="711" cy="306.5" r="1.1" fill="#a9d4ea"/><circle cx="716.1" cy="298.8" r="1.4" fill="#2a9ad6"/><circle cx="722.1" cy="303.1" r="1.1" fill="#a9d4ea"/><circle cx="728.1" cy="294.3" r="1.4" fill="#2a9ad6"/><circle cx="736" cy="298.6" r="1.1" fill="#a9d4ea"/><circle cx="741.4" cy="291.8" r="1.4" fill="#2a9ad6"/><circle cx="748.5" cy="295.6" r="1.1" fill="#a9d4ea"/><circle cx="711.3" cy="311.8" r="1.4" fill="#2a9ad6"/><circle cx="718.7" cy="316.3" r="1.1" fill="#a9d4ea"/><circle cx="726.5" cy="305.1" r="1.4" fill="#2a9ad6"/><circle cx="733.2" cy="308" r="1.1" fill="#a9d4ea"/><circle cx="737.4" cy="299.6" r="1.4" fill="#2a9ad6"/><circle cx="744" cy="303.3" r="1.1" fill="#a9d4ea"/><circle cx="750.1" cy="296.7" r="1.4" fill="#2a9ad6"/><circle cx="756.8" cy="299.8" r="1.1" fill="#a9d4ea"/><circle cx="709.5" cy="321" r="1.4" fill="#2a9ad6"/><circle cx="716.1" cy="324.5" r="1.1" fill="#a9d4ea"/><circle cx="722.3" cy="314.9" r="1.4" fill="#2a9ad6"/><circle cx="730.3" cy="317.5" r="1.1" fill="#a9d4ea"/><circle cx="735.6" cy="312.5" r="1.4" fill="#2a9ad6"/><circle cx="741.6" cy="316.6" r="1.1" fill="#a9d4ea"/><circle cx="747.6" cy="306.9" r="1.4" fill="#2a9ad6"/><circle cx="753.6" cy="309.5" r="1.1" fill="#a9d4ea"/><circle cx="717.1" cy="328.2" r="1.4" fill="#2a9ad6"/><circle cx="723.5" cy="332.2" r="1.1" fill="#a9d4ea"/><circle cx="732.5" cy="323.4" r="1.4" fill="#2a9ad6"/><circle cx="739.2" cy="326.6" r="1.1" fill="#a9d4ea"/><circle cx="744.5" cy="318.1" r="1.4" fill="#2a9ad6"/><circle cx="750.7" cy="322.1" r="1.1" fill="#a9d4ea"/><circle cx="758.5" cy="313.5" r="1.4" fill="#2a9ad6"/><circle cx="713.3" cy="336.9" r="1.4" fill="#2a9ad6"/><circle cx="720.5" cy="341.2" r="1.1" fill="#a9d4ea"/><circle cx="727.2" cy="333.9" r="1.4" fill="#2a9ad6"/><circle cx="734.3" cy="337" r="1.1" fill="#a9d4ea"/><circle cx="740.2" cy="326.8" r="1.4" fill="#2a9ad6"/><circle cx="746.4" cy="329.6" r="1.1" fill="#a9d4ea"/><circle cx="754.5" cy="324.5" r="1.4" fill="#2a9ad6"/><circle cx="725.5" cy="343.2" r="1.4" fill="#2a9ad6"/><circle cx="732.3" cy="346.2" r="1.1" fill="#a9d4ea"/><circle cx="737.5" cy="339.3" r="1.4" fill="#2a9ad6"/><circle cx="744.4" cy="342.7" r="1.1" fill="#a9d4ea"/><circle cx="749" cy="334.8" r="1.4" fill="#2a9ad6"/><circle cx="734.6" cy="347.8" r="1.4" fill="#2a9ad6"/><circle cx="747.1" cy="345" r="1.4" fill="#2a9ad6"/><circle cx="656.4" cy="529.8" r="1.4" fill="#2a9ad6"/><circle cx="661.9" cy="532.1" r="1.1" fill="#a9d4ea"/><circle cx="665" cy="529.3" r="1.4" fill="#2a9ad6"/><circle cx="670.4" cy="532.6" r="1.1" fill="#a9d4ea"/><circle cx="677.1" cy="529.6" r="1.4" fill="#2a9ad6"/><circle cx="682.2" cy="533" r="1.1" fill="#a9d4ea"/><circle cx="661.7" cy="535.4" r="1.4" fill="#2a9ad6"/><circle cx="667.3" cy="538.5" r="1.1" fill="#a9d4ea"/><circle cx="671.1" cy="535.8" r="1.4" fill="#2a9ad6"/><circle cx="677.2" cy="538.1" r="1.1" fill="#a9d4ea"/><circle cx="683.9" cy="536.2" r="1.4" fill="#2a9ad6"/><circle cx="654.3" cy="543.4" r="1.4" fill="#2a9ad6"/><circle cx="660.4" cy="546" r="1.1" fill="#a9d4ea"/><circle cx="665.3" cy="541.6" r="1.4" fill="#2a9ad6"/><circle cx="671.1" cy="543.9" r="1.1" fill="#a9d4ea"/><circle cx="678.9" cy="542.7" r="1.4" fill="#2a9ad6"/><circle cx="683.8" cy="545.8" r="1.1" fill="#a9d4ea"/><circle cx="660.6" cy="550.6" r="1.4" fill="#2a9ad6"/><circle cx="666.9" cy="553.4" r="1.1" fill="#a9d4ea"/><circle cx="672.4" cy="549.9" r="1.4" fill="#2a9ad6"/><circle cx="762.5" cy="524.9" r="1.4" fill="#2a9ad6"/><circle cx="766.8" cy="526.1" r="1.1" fill="#a9d4ea"/><circle cx="771.1" cy="525.6" r="1.4" fill="#2a9ad6"/><circle cx="774.2" cy="527.6" r="1.1" fill="#a9d4ea"/><circle cx="777.6" cy="525.8" r="1.4" fill="#2a9ad6"/><circle cx="766.8" cy="531.9" r="1.4" fill="#2a9ad6"/><circle cx="770" cy="533.3" r="1.1" fill="#a9d4ea"/><circle cx="775.4" cy="532.3" r="1.4" fill="#2a9ad6"/><circle cx="779.5" cy="534.1" r="1.1" fill="#a9d4ea"/><circle cx="764.4" cy="534.5" r="1.4" fill="#2a9ad6"/><circle cx="769.1" cy="536.1" r="1.1" fill="#a9d4ea"/><circle cx="769.9" cy="534.7" r="1.4" fill="#2a9ad6"/><circle cx="773.5" cy="537.4" r="1.1" fill="#a9d4ea"/><circle cx="778" cy="536.1" r="1.4" fill="#2a9ad6"/><line x1="500.6" y1="301.5" x2="530" y2="322.5" stroke="#35438a" stroke-width="1.6"/><ellipse cx="508.8" cy="307.4" rx="5" ry="1.9" fill="#1fb0c0" stroke="#15707a" stroke-width="0.6" transform="rotate(35.5 508.8 307.4)"/><line x1="493" y1="310" x2="522.5" y2="331.9" stroke="#35438a" stroke-width="1.6"/><ellipse cx="501.3" cy="316.1" rx="5" ry="1.9" fill="#1fb0c0" stroke="#15707a" stroke-width="0.6" transform="rotate(36.6 501.3 316.1)"/><circle cx="530" cy="322.5" r="5.6" fill="#56489a" stroke="#3c3178" stroke-width="0.8"/><circle cx="522.5" cy="331.9" r="5.6" fill="#56489a" stroke="#3c3178" stroke-width="0.8"/><circle cx="539.8" cy="329.4" r="5.6" fill="#56489a" stroke="#3c3178" stroke-width="0.8"/><circle cx="531.9" cy="338.8" r="5.6" fill="#56489a" stroke="#3c3178" stroke-width="0.8"/><circle cx="549.8" cy="336.2" r="5.6" fill="#56489a" stroke="#3c3178" stroke-width="0.8"/><circle cx="541.9" cy="345.2" r="5.6" fill="#56489a" stroke="#3c3178" stroke-width="0.8"/><line x1="568.3" y1="350" x2="605" y2="375.8" stroke="#0f5456" stroke-width="1.6"/><ellipse cx="592.5" cy="367" rx="4.4" ry="1.8" fill="#3fb24a" stroke="#125a5e" stroke-width="0.6" transform="rotate(35.1 592.5 367)"/><ellipse cx="600.6" cy="372.7" rx="4.4" ry="1.8" fill="#1b9bb0" stroke="#125a5e" stroke-width="0.6" transform="rotate(35.1 600.6 372.7)"/><circle cx="568.3" cy="350" r="5.4" fill="#2e8b84" stroke="#1f6b66" stroke-width="0.8"/><line x1="561.7" y1="358.7" x2="599" y2="384" stroke="#0f5456" stroke-width="1.6"/><ellipse cx="586.3" cy="375.4" rx="4.4" ry="1.8" fill="#3fb24a" stroke="#125a5e" stroke-width="0.6" transform="rotate(34.1 586.3 375.4)"/><ellipse cx="594.5" cy="381" rx="4.4" ry="1.8" fill="#1b9bb0" stroke="#125a5e" stroke-width="0.6" transform="rotate(34.1 594.5 381)"/><circle cx="561.7" cy="358.7" r="5.4" fill="#2e8b84" stroke="#1f6b66" stroke-width="0.8"/><g transform="translate(611 385.5) rotate(132)" stroke="#1a1a1a" stroke-width="2.6" fill="none"><line x1="-7" y1="0" x2="7" y2="0"/><line x1="0" y1="0" x2="0" y2="9"/></g><line x1="690" y1="241" x2="680.8" y2="274.2" stroke="#35438a" stroke-width="1.6"/><ellipse cx="687.4" cy="250.3" rx="5" ry="1.9" fill="#1fb0c0" stroke="#15707a" stroke-width="0.6" transform="rotate(105.5 687.4 250.3)"/><line x1="702.5" y1="242" x2="693.3" y2="276.7" stroke="#35438a" stroke-width="1.6"/><ellipse cx="699.9" cy="251.7" rx="5" ry="1.9" fill="#1fb0c0" stroke="#15707a" stroke-width="0.6" transform="rotate(104.8 699.9 251.7)"/><circle cx="680.8" cy="274.2" r="5.6" fill="#56489a" stroke="#3c3178" stroke-width="0.8"/><circle cx="693.3" cy="276.7" r="5.6" fill="#56489a" stroke="#3c3178" stroke-width="0.8"/><circle cx="678.7" cy="285" r="5.6" fill="#56489a" stroke="#3c3178" stroke-width="0.8"/><circle cx="690.5" cy="288" r="5.6" fill="#56489a" stroke="#3c3178" stroke-width="0.8"/><circle cx="676.3" cy="296.3" r="5.6" fill="#56489a" stroke="#3c3178" stroke-width="0.8"/><circle cx="688.3" cy="298.7" r="5.6" fill="#56489a" stroke="#3c3178" stroke-width="0.8"/><g transform="translate(697 236.5) rotate(15)" stroke="#1a1a1a" stroke-width="2.6" fill="none"><line x1="-7" y1="0" x2="7" y2="0"/><line x1="0" y1="0" x2="0" y2="11"/></g><line x1="671.7" y1="316.7" x2="662.5" y2="358.3" stroke="#0f5456" stroke-width="1.6"/><ellipse cx="665.6" cy="344.2" rx="4.4" ry="1.8" fill="#3fb24a" stroke="#125a5e" stroke-width="0.6" transform="rotate(102.5 665.6 344.2)"/><ellipse cx="663.6" cy="353.3" rx="4.4" ry="1.8" fill="#1b9bb0" stroke="#125a5e" stroke-width="0.6" transform="rotate(102.5 663.6 353.3)"/><circle cx="671.7" cy="316.7" r="5.4" fill="#2e8b84" stroke="#1f6b66" stroke-width="0.8"/><line x1="683" y1="319.2" x2="672.5" y2="358.3" stroke="#0f5456" stroke-width="1.6"/><ellipse cx="676.1" cy="345" rx="4.4" ry="1.8" fill="#3fb24a" stroke="#125a5e" stroke-width="0.6" transform="rotate(105 676.1 345)"/><ellipse cx="673.8" cy="353.6" rx="4.4" ry="1.8" fill="#1b9bb0" stroke="#125a5e" stroke-width="0.6" transform="rotate(105 673.8 353.6)"/><circle cx="683" cy="319.2" r="5.4" fill="#2e8b84" stroke="#1f6b66" stroke-width="0.8"/><line x1="679.3" y1="312" x2="680" y2="309.7" stroke="#1a1a1a" stroke-width="3"/><polygon points="681.8,303.5 684.3,311 675.6,308.5" fill="#1a1a1a"/><path d="M730 282.5 Q738 310 715 338" fill="none" stroke="#1a1a1a" stroke-width="2"/><g transform="translate(714 338.5) rotate(-142)" stroke="#1a1a1a" stroke-width="2.2" fill="none"><line x1="-6.5" y1="0" x2="6.5" y2="0"/><line x1="0" y1="0" x2="0" y2="0.1"/></g><ellipse cx="623.3" cy="395" rx="11.8" ry="11" fill="#4477c9" stroke="#2c4f8e" stroke-width="1.1"/><rect x="620.1" y="394.8" width="6.5" height="2.8" fill="#111"/><ellipse cx="694.4" cy="358" rx="12" ry="11" fill="#4477c9" stroke="#2c4f8e" stroke-width="1.1"/><rect x="691.2" y="357.8" width="6.5" height="2.8" fill="#111"/><ellipse cx="700" cy="466" rx="11.8" ry="11" fill="#4477c9" stroke="#2c4f8e" stroke-width="1.1"/><rect x="696.8" y="465.8" width="6.5" height="2.8" fill="#111"/><ellipse cx="665.6" cy="507.3" rx="12" ry="11" fill="#4477c9" stroke="#2c4f8e" stroke-width="1.1"/><rect x="662.4" y="507.1" width="6.5" height="2.8" fill="#111"/><ellipse cx="717" cy="253.3" rx="11.5" ry="11" fill="#4477c9" stroke="#2c4f8e" stroke-width="1.1"/><rect x="713.8" y="253.1" width="6.5" height="2.8" fill="#111"/><circle cx="701" cy="420" r="17.5" fill="#a52de0" stroke="#7a1fa8" stroke-width="1"/><line x1="750" y1="368" x2="721" y2="376.5" stroke="#9cb4d8" stroke-width="1.6"/><line x1="757" y1="371" x2="723" y2="381.5" stroke="#9cb4d8" stroke-width="1.6"/><ellipse cx="727" cy="374.2" rx="4.2" ry="2.1" fill="#d84a50" stroke="#a83240" stroke-width="0.5" transform="rotate(-15 727 374.2)"/><ellipse cx="728.5" cy="379.8" rx="4.2" ry="2.1" fill="#d84a50" stroke="#a83240" stroke-width="0.5" transform="rotate(-15 728.5 379.8)"/><g fill="#92b0dc" stroke="#6f90c8" stroke-width="0.6"><ellipse cx="751" cy="366.3" rx="5.5" ry="3.3" transform="rotate(-20 751 366.3)"/><ellipse cx="762.5" cy="362" rx="8.8" ry="3.5" transform="rotate(-12 762.5 362)"/><ellipse cx="764.2" cy="368" rx="8.6" ry="3.5" transform="rotate(-15 764.2 368)"/></g><line x1="763" y1="380.7" x2="733.7" y2="380.7" stroke="#c23c48" stroke-width="1.5"/><ellipse cx="742.9" cy="380.7" rx="4.3" ry="1.9" fill="#d84a50" stroke="#a83240" stroke-width="0.5"/><line x1="763" y1="389.3" x2="733.7" y2="389.3" stroke="#c23c48" stroke-width="1.5"/><ellipse cx="742.9" cy="389.3" rx="4.3" ry="1.9" fill="#d84a50" stroke="#a83240" stroke-width="0.5"/><g fill="#d84a4a" stroke="#a83232" stroke-width="0.7"><circle cx="767.9" cy="380" r="5.5"/><circle cx="779.6" cy="380" r="5.5"/><circle cx="767.9" cy="389.6" r="5.5"/><circle cx="779.6" cy="389.6" r="5.5"/></g><line x1="773.3" y1="367" x2="776.3" y2="371" stroke="#1a1a1a" stroke-width="1.3"/><polygon points="778.8,374.2 774.1,372.7 778.6,369.3" fill="#1a1a1a"/><line x1="730" y1="384.6" x2="723" y2="388.9" stroke="#1a1a1a" stroke-width="3"/><polygon points="717.9,392 720.8,385.3 725.2,392.5" fill="#1a1a1a"/><line x1="872.5" y1="392.5" x2="840" y2="392.5" stroke="#35438a" stroke-width="1.6"/><ellipse cx="863.4" cy="392.5" rx="5" ry="1.9" fill="#1fb0c0" stroke="#15707a" stroke-width="0.6" transform="rotate(180 863.4 392.5)"/><line x1="872.5" y1="405.5" x2="840" y2="405.5" stroke="#35438a" stroke-width="1.6"/><ellipse cx="863.4" cy="405.5" rx="5" ry="1.9" fill="#1fb0c0" stroke="#15707a" stroke-width="0.6" transform="rotate(180 863.4 405.5)"/><circle cx="805.4" cy="393.5" r="6.3" fill="#56489a" stroke="#3c3178" stroke-width="0.8"/><circle cx="817.9" cy="393.5" r="6.3" fill="#56489a" stroke="#3c3178" stroke-width="0.8"/><circle cx="830.4" cy="393.5" r="6.3" fill="#56489a" stroke="#3c3178" stroke-width="0.8"/><circle cx="805.4" cy="406" r="6.3" fill="#56489a" stroke="#3c3178" stroke-width="0.8"/><circle cx="817.9" cy="406" r="6.3" fill="#56489a" stroke="#3c3178" stroke-width="0.8"/><circle cx="830.4" cy="406" r="6.3" fill="#56489a" stroke="#3c3178" stroke-width="0.8"/><line x1="868.8" y1="450" x2="838" y2="450" stroke="#35438a" stroke-width="1.6"/><ellipse cx="860.1" cy="450" rx="5" ry="1.9" fill="#1fb0c0" stroke="#15707a" stroke-width="0.6" transform="rotate(180 860.1 450)"/><line x1="868.8" y1="462" x2="838" y2="462" stroke="#35438a" stroke-width="1.6"/><ellipse cx="860.1" cy="462" rx="5" ry="1.9" fill="#1fb0c0" stroke="#15707a" stroke-width="0.6" transform="rotate(180 860.1 462)"/><circle cx="805.4" cy="450.8" r="6.3" fill="#56489a" stroke="#3c3178" stroke-width="0.8"/><circle cx="817.9" cy="450.8" r="6.3" fill="#56489a" stroke="#3c3178" stroke-width="0.8"/><circle cx="830.4" cy="450.8" r="6.3" fill="#56489a" stroke="#3c3178" stroke-width="0.8"/><circle cx="805.4" cy="462.3" r="6.3" fill="#56489a" stroke="#3c3178" stroke-width="0.8"/><circle cx="817.9" cy="462.3" r="6.3" fill="#56489a" stroke="#3c3178" stroke-width="0.8"/><circle cx="830.4" cy="462.3" r="6.3" fill="#56489a" stroke="#3c3178" stroke-width="0.8"/><line x1="796.2" y1="395.4" x2="791.9" y2="390.5" stroke="#1a1a1a" stroke-width="1.3"/><polygon points="789.2,387.5 793.9,388.6 789.8,392.4" fill="#1a1a1a"/><g transform="translate(780.4 400.6) rotate(0)" stroke="#1a1a1a" stroke-width="2.4" fill="none"><line x1="-6" y1="0" x2="6" y2="0"/><line x1="0" y1="0" x2="0" y2="9"/></g><line x1="797.5" y1="403" x2="792.7" y2="408.4" stroke="#1a1a1a" stroke-width="3.4"/><polygon points="787,414.7 788.2,404.4 797.1,412.3" fill="#1a1a1a"/><line x1="780.4" y1="416.5" x2="737" y2="416.5" stroke="#0f5456" stroke-width="1.6"/><ellipse cx="751.8" cy="416.5" rx="4.4" ry="1.8" fill="#3fb24a" stroke="#125a5e" stroke-width="0.6" transform="rotate(180 751.8 416.5)"/><ellipse cx="742.2" cy="416.5" rx="4.4" ry="1.8" fill="#1b9bb0" stroke="#125a5e" stroke-width="0.6" transform="rotate(180 742.2 416.5)"/><circle cx="780.4" cy="416.5" r="5.4" fill="#2e8b84" stroke="#1f6b66" stroke-width="0.8"/><line x1="780.4" y1="425.8" x2="737" y2="425.8" stroke="#0f5456" stroke-width="1.6"/><ellipse cx="751.8" cy="425.8" rx="4.4" ry="1.8" fill="#3fb24a" stroke="#125a5e" stroke-width="0.6" transform="rotate(180 751.8 425.8)"/><ellipse cx="742.2" cy="425.8" rx="4.4" ry="1.8" fill="#1b9bb0" stroke="#125a5e" stroke-width="0.6" transform="rotate(180 742.2 425.8)"/><circle cx="780.4" cy="425.8" r="5.4" fill="#2e8b84" stroke="#1f6b66" stroke-width="0.8"/><g transform="translate(726 421) rotate(-90)" stroke="#1a1a1a" stroke-width="2.4" fill="none"><line x1="-7" y1="0" x2="7" y2="0"/><line x1="0" y1="0" x2="0" y2="10"/></g><line x1="769" y1="446" x2="736.5" y2="447.4" stroke="#c23c48" stroke-width="1.5"/><ellipse cx="746.2" cy="447" rx="4.3" ry="2" fill="#d84a50" stroke="#a83240" stroke-width="0.5" transform="rotate(177.5 746.2 447)"/><line x1="780" y1="454" x2="737.2" y2="451.5" stroke="#0f5456" stroke-width="1.6"/><ellipse cx="751.8" cy="452.4" rx="4.4" ry="1.8" fill="#3fb24a" stroke="#125a5e" stroke-width="0.6" transform="rotate(-176.7 751.8 452.4)"/><ellipse cx="742.3" cy="451.8" rx="4.4" ry="1.8" fill="#1b9bb0" stroke="#125a5e" stroke-width="0.6" transform="rotate(-176.7 742.3 451.8)"/><circle cx="780" cy="454" r="5.4" fill="#2e8b84" stroke="#1f6b66" stroke-width="0.8"/><line x1="766.4" y1="466.8" x2="735" y2="455.7" stroke="#c23c48" stroke-width="1.5"/><ellipse cx="744.4" cy="459" rx="4.3" ry="2" fill="#d84a50" stroke="#a83240" stroke-width="0.5" transform="rotate(-160.5 744.4 459)"/><g fill="#d84a4a" stroke="#a83232" stroke-width="0.7"><circle cx="769.2" cy="446" r="5.4"/><circle cx="779.6" cy="445.3" r="5.4"/><circle cx="766.4" cy="466.8" r="5.6"/><circle cx="776.8" cy="471" r="5.6"/></g><circle cx="780" cy="453.9" r="6.2" fill="#2e8b84" stroke="#1f6b66" stroke-width="0.8"/><g transform="translate(768 460.3) rotate(180)" stroke="#1a1a1a" stroke-width="2.6" fill="none"><line x1="-6.5" y1="0" x2="6.5" y2="0"/><line x1="0" y1="0" x2="0" y2="5.5"/></g><line x1="797" y1="457.5" x2="794.1" y2="455.9" stroke="#1a1a1a" stroke-width="3.2"/><polygon points="787.5,452.3 796.6,451.3 791.6,460.5" fill="#1a1a1a"/><line x1="732.4" y1="450" x2="727.8" y2="447" stroke="#1a1a1a" stroke-width="1.4"/><polygon points="724,444.6 729.5,444.4 726.1,449.7" fill="#1a1a1a"/><line x1="751.8" y1="507.1" x2="724" y2="478" stroke="#0f5456" stroke-width="1.6"/><ellipse cx="733.5" cy="487.9" rx="4.4" ry="1.8" fill="#3fb24a" stroke="#125a5e" stroke-width="0.6" transform="rotate(-133.7 733.5 487.9)"/><ellipse cx="727.3" cy="481.5" rx="4.4" ry="1.8" fill="#1b9bb0" stroke="#125a5e" stroke-width="0.6" transform="rotate(-133.7 727.3 481.5)"/><circle cx="751.8" cy="507.1" r="5.4" fill="#2e8b84" stroke="#1f6b66" stroke-width="0.8"/><line x1="744.2" y1="514" x2="717" y2="485" stroke="#0f5456" stroke-width="1.6"/><ellipse cx="726.2" cy="494.9" rx="4.4" ry="1.8" fill="#3fb24a" stroke="#125a5e" stroke-width="0.6" transform="rotate(-133.2 726.2 494.9)"/><ellipse cx="720.3" cy="488.5" rx="4.4" ry="1.8" fill="#1b9bb0" stroke="#125a5e" stroke-width="0.6" transform="rotate(-133.2 720.3 488.5)"/><circle cx="744.2" cy="514" r="5.4" fill="#2e8b84" stroke="#1f6b66" stroke-width="0.8"/><g transform="translate(714.3 474.5) rotate(-45)" stroke="#1a1a1a" stroke-width="2.8" fill="none"><line x1="-7" y1="0" x2="7" y2="0"/><line x1="0" y1="0" x2="0" y2="9"/></g><line x1="760" y1="522.4" x2="757.6" y2="520.2" stroke="#1a1a1a" stroke-width="3"/><polygon points="752.5,515.4 761,516.6 754.3,523.8" fill="#1a1a1a"/><rect x="796.5" y="540" width="10.5" height="32" rx="5.2" fill="#c7b0e2" stroke="#9f84c6" stroke-width="1" transform="rotate(-37 801.7 556)"/><path d="M797 551 q3 -2 4 1 q2 3 4 1 q3 -2 4 2" fill="none" stroke="#9a78c0" stroke-width="1.6" transform="rotate(15 803 553)"/><path d="M813 569 Q816 578 809 584 Q803 590 806 598" fill="none" stroke="#a286c8" stroke-width="1.1"/><line x1="534" y1="610.4" x2="502" y2="610.4" stroke="#35438a" stroke-width="1.6"/><ellipse cx="525" cy="610.4" rx="5" ry="1.9" fill="#1fb0c0" stroke="#15707a" stroke-width="0.6" transform="rotate(180 525 610.4)"/><line x1="534" y1="621.1" x2="502" y2="621.1" stroke="#35438a" stroke-width="1.6"/><ellipse cx="525" cy="621.1" rx="5" ry="1.9" fill="#1fb0c0" stroke="#15707a" stroke-width="0.6" transform="rotate(180 525 621.1)"/><circle cx="539.6" cy="608.8" r="5.8" fill="#56489a" stroke="#3c3178" stroke-width="0.8"/><circle cx="551.5" cy="608.8" r="5.8" fill="#56489a" stroke="#3c3178" stroke-width="0.8"/><circle cx="563.4" cy="608.8" r="5.8" fill="#56489a" stroke="#3c3178" stroke-width="0.8"/><circle cx="539.6" cy="619.9" r="5.8" fill="#56489a" stroke="#3c3178" stroke-width="0.8"/><circle cx="551.5" cy="619.9" r="5.8" fill="#56489a" stroke="#3c3178" stroke-width="0.8"/><circle cx="563.4" cy="619.9" r="5.8" fill="#56489a" stroke="#3c3178" stroke-width="0.8"/><line x1="569" y1="614" x2="575.5" y2="614" stroke="#1a1a1a" stroke-width="2.4"/><polygon points="581,614 575.5,617.9 575.5,610.1" fill="#1a1a1a"/><line x1="587.1" y1="608.8" x2="632" y2="608.8" stroke="#0f5456" stroke-width="1.6"/><ellipse cx="616.7" cy="608.8" rx="4.4" ry="1.8" fill="#3fb24a" stroke="#125a5e" stroke-width="0.6" transform="rotate(0 616.7 608.8)"/><ellipse cx="626.6" cy="608.8" rx="4.4" ry="1.8" fill="#1b9bb0" stroke="#125a5e" stroke-width="0.6" transform="rotate(0 626.6 608.8)"/><circle cx="587.1" cy="608.8" r="5.4" fill="#2e8b84" stroke="#1f6b66" stroke-width="0.8"/><line x1="587.1" y1="619.4" x2="632" y2="619.4" stroke="#0f5456" stroke-width="1.6"/><ellipse cx="616.7" cy="619.4" rx="4.4" ry="1.8" fill="#3fb24a" stroke="#125a5e" stroke-width="0.6" transform="rotate(0 616.7 619.4)"/><ellipse cx="626.6" cy="619.4" rx="4.4" ry="1.8" fill="#1b9bb0" stroke="#125a5e" stroke-width="0.6" transform="rotate(0 626.6 619.4)"/><circle cx="587.1" cy="619.4" r="5.4" fill="#2e8b84" stroke="#1f6b66" stroke-width="0.8"/><g transform="translate(666.5 529) rotate(0)" stroke="#1a1a1a" stroke-width="2.6" fill="none"><line x1="-7" y1="0" x2="7" y2="0"/><line x1="0" y1="0" x2="0" y2="24"/></g><text x="25" y="69.5" font-family="Liberation Serif" font-size="42.5" font-weight="bold" font-style="normal" fill="#151515" text-anchor="start" textLength="1110" lengthAdjust="spacing">TIGIT Axis Inhibits Innate and Adaptive Immunity Through</text><text x="25" y="127" font-family="Liberation Serif" font-size="42.5" font-weight="bold" font-style="normal" fill="#151515" text-anchor="start">Multiple Mechanisms</text><text x="243" y="181.2" font-family="Liberation Sans" font-size="25.5" font-weight="normal" font-style="normal" fill="#1a1a1a" text-anchor="start" textLength="344" lengthAdjust="spacingAndGlyphs"><tspan font-weight="bold">1</tspan>. T/NK cell-intrinsic inhibition</text><text x="806.5" y="172.2" font-family="Liberation Sans" font-size="25.5" font-weight="normal" font-style="normal" fill="#1a1a1a" text-anchor="start" textLength="269" lengthAdjust="spacingAndGlyphs"><tspan font-weight="bold">2.</tspan> Immunosuppressive</text><text x="805.5" y="200.5" font-family="Liberation Sans" font-size="25.5" font-weight="normal" font-style="normal" fill="#1a1a1a" text-anchor="start">DC</text><text x="813" y="296.7" font-family="Liberation Sans" font-size="25.5" font-weight="normal" font-style="normal" fill="#1a1a1a" text-anchor="start" textLength="248" lengthAdjust="spacingAndGlyphs"><tspan font-weight="bold">3</tspan>. Inhibition of CD226</text><text x="812" y="324.7" font-family="Liberation Sans" font-size="25.5" font-weight="normal" font-style="normal" fill="#1a1a1a" text-anchor="start" textLength="109" lengthAdjust="spacingAndGlyphs">signaling</text><text x="745" y="629.5" font-family="Liberation Sans" font-size="25.5" font-weight="normal" font-style="normal" fill="#1a1a1a" text-anchor="start" textLength="245" lengthAdjust="spacingAndGlyphs"><tspan font-weight="bold">4.</tspan> T-reg stability and</text><text x="744" y="658" font-family="Liberation Sans" font-size="25.5" font-weight="normal" font-style="normal" fill="#1a1a1a" text-anchor="start" textLength="145" lengthAdjust="spacingAndGlyphs">suppression</text><text x="967.5" y="533.3" font-family="Liberation Sans" font-size="25.5" font-weight="normal" font-style="normal" fill="#1a1a1a" text-anchor="start" textLength="195" lengthAdjust="spacingAndGlyphs"><tspan font-weight="bold">5.</tspan> Fap2-induced</text><text x="967.5" y="562.6" font-family="Liberation Sans" font-size="25.5" font-weight="normal" font-style="normal" fill="#1a1a1a" text-anchor="start" textLength="217" lengthAdjust="spacingAndGlyphs">T/NK cell inhibition</text><text x="188.5" y="347" font-family="Liberation Sans" font-size="25.5" font-weight="bold" font-style="normal" fill="#111" text-anchor="start" textLength="67" lengthAdjust="spacing">TIGIT</text><text x="429.3" y="276.8" font-family="Liberation Sans" font-size="18" font-weight="normal" font-style="normal" fill="#111" text-anchor="start" textLength="88" lengthAdjust="spacing">Tumor cell</text><text x="459.6" y="297.2" font-family="Liberation Sans" font-size="18" font-weight="normal" font-style="normal" fill="#111" text-anchor="start">DC</text><text x="855" y="427" font-family="Liberation Sans" font-size="18" font-weight="normal" font-style="normal" fill="#111" text-anchor="start" textLength="88" lengthAdjust="spacing">Tumor cell</text><text x="884.5" y="447.4" font-family="Liberation Sans" font-size="18" font-weight="normal" font-style="normal" fill="#111" text-anchor="start">DC</text><text x="428.9" y="589.3" font-family="Liberation Sans" font-size="18" font-weight="normal" font-style="normal" fill="#111" text-anchor="start" textLength="88" lengthAdjust="spacing">Tumor cell</text><text x="457.8" y="609.7" font-family="Liberation Sans" font-size="18" font-weight="normal" font-style="normal" fill="#111" text-anchor="start">DC</text><text x="617" y="433.5" font-family="Liberation Sans" font-size="18.8" font-weight="normal" font-style="normal" fill="#111" text-anchor="start" textLength="45" lengthAdjust="spacingAndGlyphs">T cell</text><text x="616" y="454" font-family="Liberation Sans" font-size="18.8" font-weight="normal" font-style="normal" fill="#111" text-anchor="start" textLength="62" lengthAdjust="spacingAndGlyphs">NK cell</text><text x="700.2" y="228.5" font-family="Liberation Sans" font-size="18" font-weight="normal" font-style="normal" fill="#111" text-anchor="start">DC</text><text x="651" y="615.4" font-family="Liberation Sans" font-size="18" font-weight="normal" font-style="normal" fill="#111" text-anchor="start">Treg</text><text x="687.5" y="426.5" font-family="Liberation Sans" font-size="20" font-weight="normal" font-style="normal" fill="#111" text-anchor="start" textLength="26" lengthAdjust="spacingAndGlyphs">+/-</text><text x="687.5" y="426.5" font-family="Liberation Sans" font-size="20" fill="none" stroke="#111" stroke-width="0.6" textLength="26" lengthAdjust="spacingAndGlyphs">+/-</text><text x="538.5" y="318" font-family="Liberation Sans" font-size="15.5" font-weight="normal" font-style="normal" fill="#111" text-anchor="start" textLength="49.5" lengthAdjust="spacingAndGlyphs">CD155</text><text x="606.9" y="320.6" font-family="Liberation Sans" font-size="17.5" font-weight="bold" font-style="normal" fill="#111" text-anchor="start">TIGIT</text><text x="576.5" y="346.2" font-family="Liberation Sans" font-size="15" font-weight="normal" font-style="normal" fill="#111" text-anchor="start" textLength="38" lengthAdjust="spacing">TIGIT</text><text x="739" y="307.5" font-family="Liberation Sans" font-size="15" font-weight="normal" font-style="normal" fill="#111" text-anchor="start" textLength="34.5" lengthAdjust="spacing">IL-10</text><text x="735.5" y="358.5" font-family="Liberation Sans" font-size="15" font-weight="normal" font-style="normal" fill="#111" text-anchor="start" textLength="41.5" lengthAdjust="spacing">LFA-1</text><text x="783" y="375.4" font-family="Liberation Sans" font-size="15.5" font-weight="normal" font-style="normal" fill="#111" text-anchor="start" textLength="49.5" lengthAdjust="spacingAndGlyphs">CD226</text><text x="789.8" y="433.5" font-family="Liberation Sans" font-size="18" font-weight="bold" font-style="normal" fill="#111" text-anchor="start">TIGIT</text><text x="576" y="545.4" font-family="Liberation Sans" font-size="15" font-weight="normal" font-style="normal" fill="#111" text-anchor="start" textLength="70.5" lengthAdjust="spacing">Fgl2/IL-10</text><text x="552.8" y="595.6" font-family="Liberation Sans" font-size="17.5" font-weight="bold" font-style="normal" fill="#111" text-anchor="start">TIGIT</text><text x="783.3" y="522.9" font-family="Liberation Sans" font-size="14.5" font-weight="normal" font-style="normal" fill="#111" text-anchor="start">Fap2</text><text x="829.5" y="568.3" font-family="Liberation Sans" font-size="15.3" font-weight="normal" font-style="italic" fill="#111" text-anchor="start" textLength="92" lengthAdjust="spacing">F. nucleatum</text><text x="326.5" y="692.1" font-family="Liberation Sans" font-size="12.6" font-weight="normal" font-style="normal" fill="#222" text-anchor="start" textLength="528" lengthAdjust="spacingAndGlyphs">Chauvin. J Immunother Cancer. 2020;8:e000957. <tspan text-decoration="underline">CC BY-NC 4.0</tspan>. Changes made.</text><text x="1159" y="683" font-family="Liberation Sans" font-size="11" font-weight="normal" font-style="normal" fill="#222" text-anchor="start" textLength="61.5" lengthAdjust="spacingAndGlyphs">Slide credit:</text><text x="1059.5" y="696" font-family="Liberation Sans" font-size="11.2" font-weight="normal" font-style="normal" fill="#e0572a" text-anchor="start" textLength="161" lengthAdjust="spacing">deceraclinical.com/education</text><text x="1244" y="696" font-family="Liberation Sans" font-size="11" font-weight="normal" font-style="normal" fill="#222" text-anchor="start">25</text><text x="61.5" y="675.1" font-family="Liberation Sans" font-size="9.2" font-weight="bold" font-style="normal" fill="#1a1a1a" text-anchor="start" textLength="53" lengthAdjust="spacingAndGlyphs">DECERA</text><text x="61.5" y="685.4" font-family="Liberation Sans" font-size="9.2" font-weight="bold" font-style="normal" fill="#1a1a1a" text-anchor="start" textLength="65.5" lengthAdjust="spacingAndGlyphs">CLINICAL</text><text x="61.5" y="695.6" font-family="Liberation Sans" font-size="9.6" font-weight="bold" font-style="normal" fill="#e0500f" text-anchor="start" textLength="54.7" lengthAdjust="spacingAndGlyphs">Education</text><g fill="#e04a0f"><circle cx="30" cy="672.4" r="4.5"/><rect x="33.5" y="668" width="19.3" height="9" rx="4.5"/><rect x="25.5" y="677.6" width="9.2" height="9"/><rect x="43.6" y="677.6" width="9.2" height="9"/><rect x="25.5" y="686.8" width="18.8" height="9" rx="4.5"/><circle cx="48.3" cy="691.2" r="4.5"/></g><circle cx="574.6" cy="371.2" r="33" fill="none" stroke="#e04a12" stroke-width="4.6"/><line x1="549.5" y1="345" x2="553" y2="347.7" stroke="#1a1a1a" stroke-width="2.6"/><polygon points="558.5,352 550,351.6 556,343.8" fill="#1a1a1a"/></svg>
</body></html>
